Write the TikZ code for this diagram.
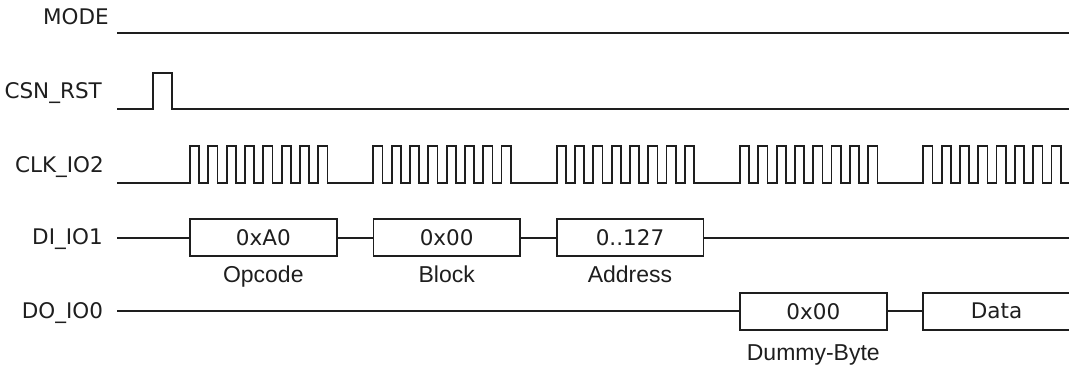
\documentclass[tikz,border=0pt]{standalone}
\usepackage{fontspec}
\setmainfont{DejaVu Sans}
\newfontfamily\notefont{Liberation Sans}
\usetikzlibrary{positioning}
\definecolor{wirecol}{RGB}{30,30,30}

\begin{document}
\begin{tikzpicture}[
    x=1pt, y=-1pt,
    every node/.style={font=\fontsize{21.5}{25}\selectfont, text=wirecol},
    signame/.style={anchor=base east, inner sep=0pt},
    wire/.style={draw=wirecol, line width=1.7pt},
    byte/.style={rectangle, draw=wirecol, line width=1.7pt, minimum width=146.7pt, minimum height=36.7pt, inner sep=0pt},
    note/.style={font=\notefont\fontsize{23}{27}\selectfont, inner sep=0pt}
]
\useasboundingbox (0,0) rectangle (1069,366);

% Señales
\node[signame] (mode) at (109,25) {MODE};
\node[signame] (csn) at (102,98.3) {CSN\_RST};
\node[signame] (clk) at (104,172.7) {CLK\_IO2};
\node[signame] (din) at (103,244.3) {DI\_IO1};
\node[signame] (dout) at (103.3,318.3) {DO\_IO0};

% Bytes
\node[byte] (opcode) at (263.3,237.7) {0xA0};
\node[byte] (block) at (446.7,237.7) {0x00};
\node[byte] (addr) at (630,237.7) {0..127};
\node[byte] (dummy) at (813.3,311.3) {0x00};
\node[byte, minimum width=147.8pt] (data) at (996.6,311.3) {Data};

\node[note, below=8.5pt of opcode] (opcodelbl) {Opcode};
\node[note, below=8.5pt of block] (blocklbl) {Block};
\node[note, below=8.5pt of addr] (addrlbl) {Address};
\node[note, below=14pt of dummy] (dummylbl) {Dummy-Byte};

% Lineas
\coordinate (modea) at (117,32.7);
\coordinate (modeb) at (1069,32.7);
\coordinate (csna) at (117,109);
\coordinate (csnb) at (1069,109);
\coordinate (clka) at (117,182.7);
\coordinate (clkb) at (1069,182.7);
\coordinate (dina) at (117,237.7);
\coordinate (dinb) at (1069,237.7);
\coordinate (douta) at (117,311.3);

\draw[wire] (modea) -- (modeb);
\draw[wire] (csna) -- (153.3,109) -- (153.3,73) -- (171.7,73) -- (171.7,109) -- (csnb);
\draw[wire] (clka)
  \foreach \g in {0,...,4}{
    \foreach \p in {0,...,7}{
      -- ({190+183.33*\g+18.33*\p},182.7) -- ++(0,-36.7) -- ++(9.17,0) -- ++(0,36.7)
    }
  } -- (clkb);
\draw[wire] (dina) -- (opcode) (opcode) -- (block) (block) -- (addr) (addr) -- (dinb);
\draw[wire] (douta) -- (dummy) (dummy) -- (data);

\end{tikzpicture}
\end{document}
